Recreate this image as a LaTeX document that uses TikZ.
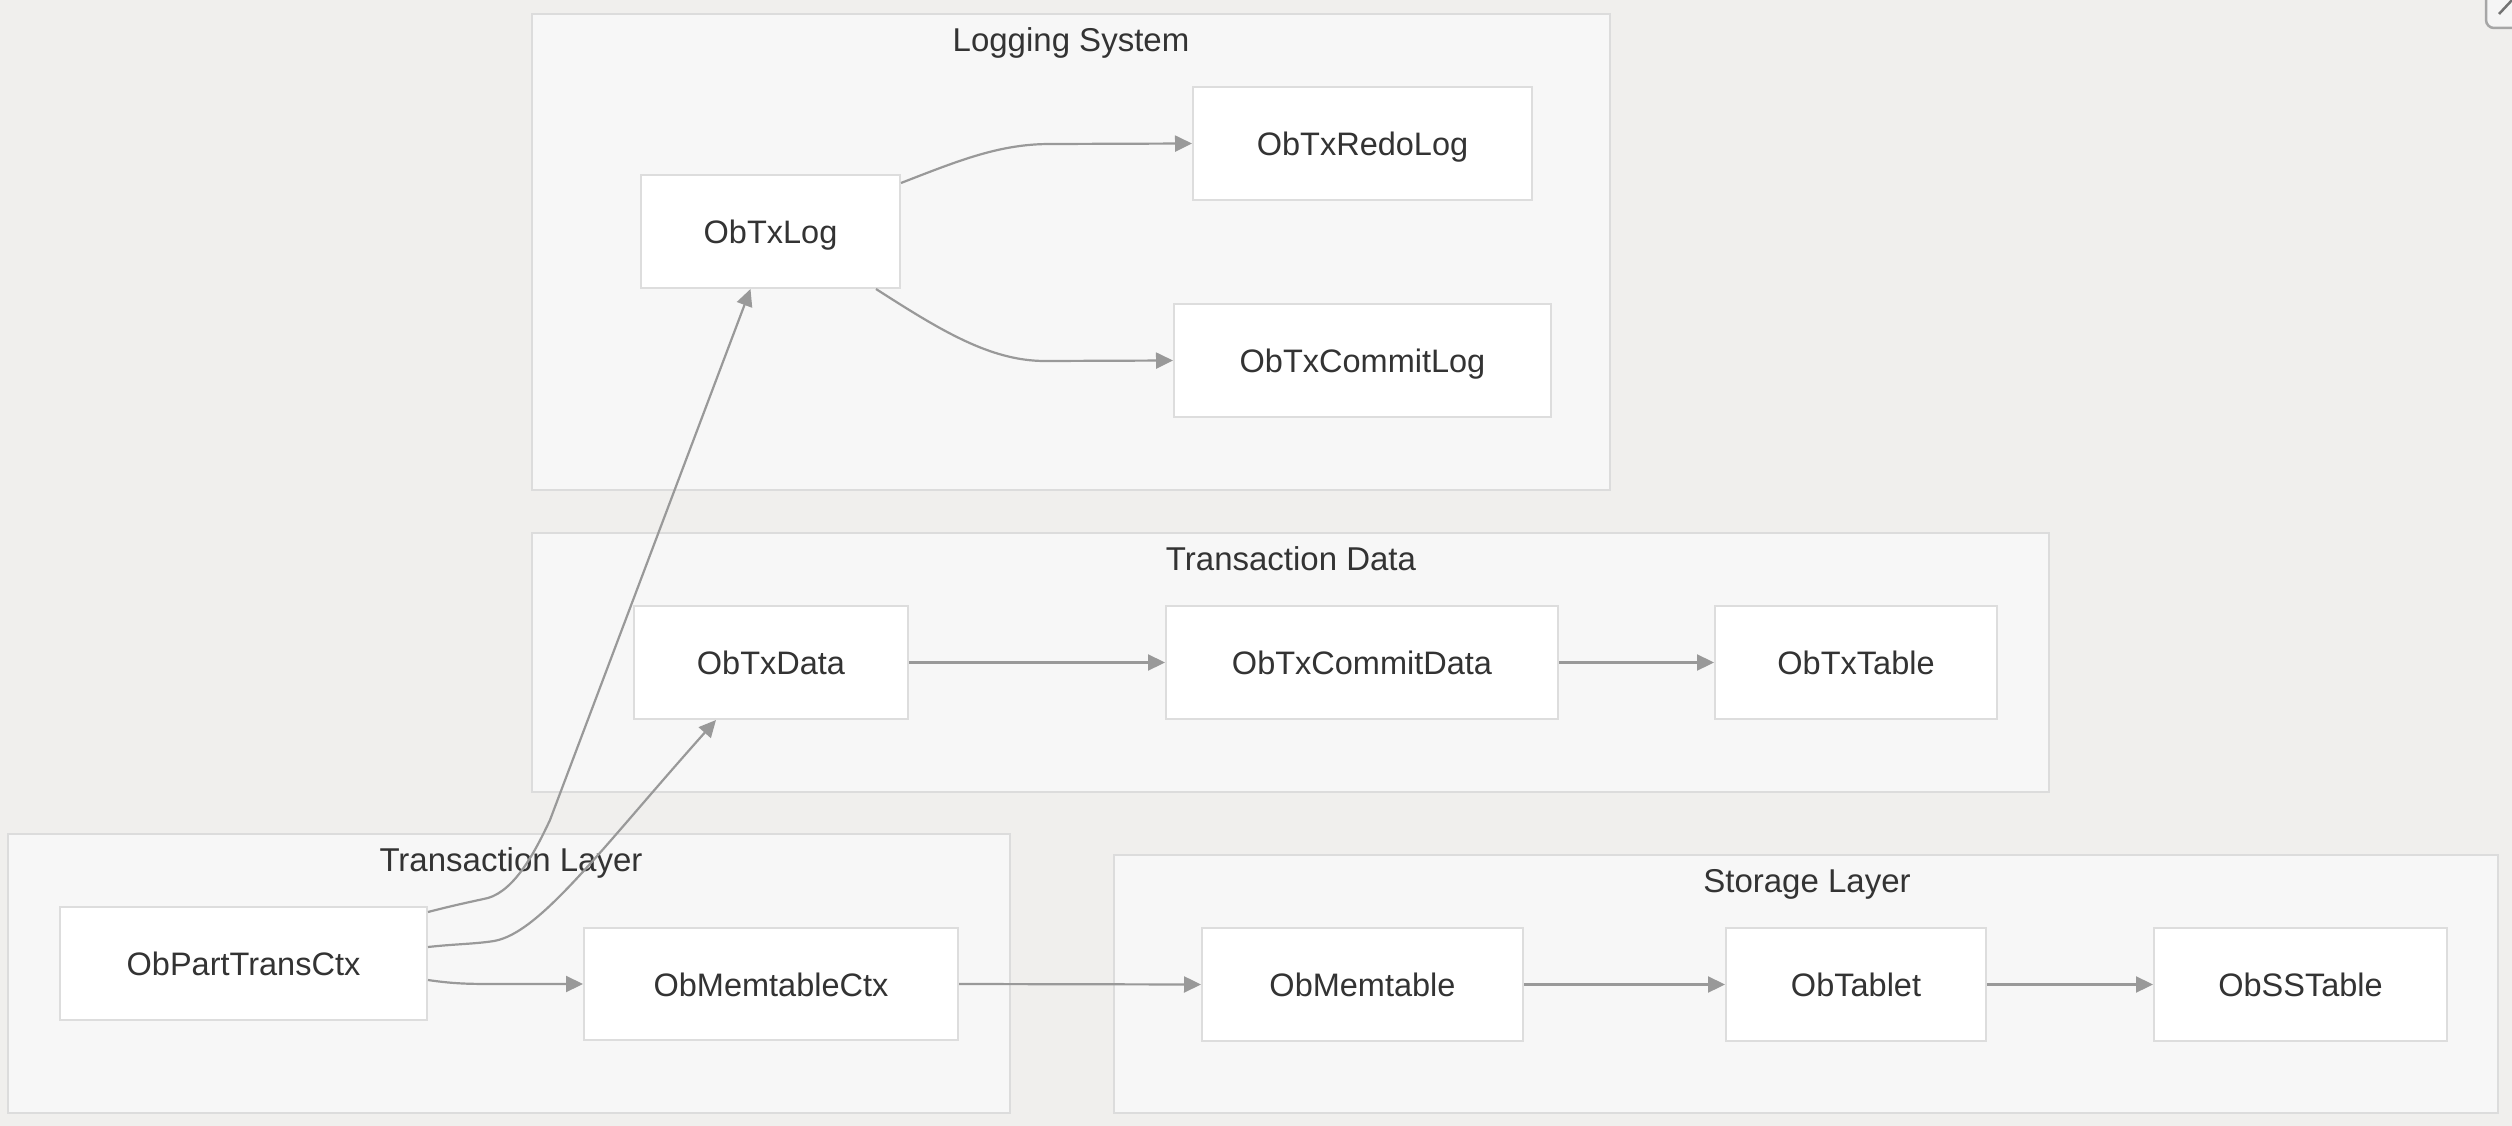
\documentclass[tikz,border=0pt]{standalone}
\usepackage{fontspec}
\setmainfont{Liberation Sans}
\usetikzlibrary{arrows.meta}
\definecolor{bgc}{HTML}{F0EFED}
\definecolor{clfill}{HTML}{F7F7F7}
\definecolor{clline}{HTML}{DCDCDC}
\definecolor{ndline}{HTML}{DDDDDD}
\definecolor{edgec}{HTML}{999999}
\definecolor{txtc}{HTML}{333333}
\tikzset{
  cluster/.style={fill=clfill, draw=clline, line width=2pt},
  cltitle/.style={anchor=base, text=txtc, font=\fontsize{33}{40}\selectfont, inner sep=0pt},
  box/.style={draw=ndline, fill=white, line width=2pt, text=txtc, font=\fontsize{32.5}{40}\selectfont,
    minimum height=113pt, inner sep=0pt, text height=30pt, text depth=6pt},
  edge/.style={draw=edgec, line width=2.2pt, -{Triangle[length=17pt,width=16pt]}},
}
\begin{document}
\begin{tikzpicture}[x=1pt,y=-1pt]
\useasboundingbox (0,0) rectangle (2512,1126);
\fill[bgc] (0,0) rectangle (2512,1126);
% corner icon
\begin{scope}
\clip (0,0) rectangle (2512,1126);
\draw[draw=black!35, fill=black!4, line width=2.5pt, rounded corners=8pt] (2486,-20) rectangle (2545,28);
\draw[draw=black!55, line width=2.5pt] (2499,14) -- (2513,-1);
\end{scope}
% clusters
\draw[cluster] (532,14) rectangle (1610,490);
\node[cltitle] (tlog) at (1071,52) {Logging System};
\draw[cluster] (532,533) rectangle (2049,792);
\node[cltitle] (tdata) at (1291,570) {Transaction Data};
\draw[cluster] (8,834) rectangle (1010,1113);
\node[cltitle] (tlayer) at (511,871) {Transaction Layer};
\draw[cluster] (1114,855) rectangle (2498,1113);
\node[cltitle] (tstore) at (1807,892) {Storage Layer};
% nodes
\node[box, minimum width=259pt] (txlog) at (770.5,231.5) {ObTxLog};
\node[box, minimum width=339pt] (redo) at (1362.5,143.5) {ObTxRedoLog};
\node[box, minimum width=377pt] (clog) at (1362.5,360.5) {ObTxCommitLog};
\node[box, minimum width=274pt] (txdata) at (771,662.5) {ObTxData};
\node[box, minimum width=392pt] (cdata) at (1362,662.5) {ObTxCommitData};
\node[box, minimum width=282pt] (txtable) at (1856,662.5) {ObTxTable};
\node[box, minimum width=367pt] (ptc) at (243.5,963.5) {ObPartTransCtx};
\node[box, minimum width=374pt, minimum height=112pt] (mctx) at (771,984) {ObMemtableCtx};
\node[box, minimum width=321pt] (mt) at (1362.5,984.5) {ObMemtable};
\node[box, minimum width=260pt] (tablet) at (1856,984.5) {ObTablet};
\node[box, minimum width=293pt] (sst) at (2300.5,984.5) {ObSSTable};
% edges
\draw[edge] ([yshift=51.5pt]ptc.east) .. controls (455,905) and (470,902) .. (488,898)
  .. controls (515,890) and (535,852) .. (550,820) -- ([xshift=-20pt]txlog.south);
\draw[edge] ([yshift=16.5pt]ptc.east) .. controls (455,944) and (475,944) .. (494,941)
  .. controls (540,933) and (600,850) .. ([xshift=-55pt]txdata.south);
\draw[edge] ([yshift=-16.5pt]ptc.east) .. controls (455,984) and (470,984) .. (500,984) -- (mctx.west);
\draw[edge] (mctx.east) -- (mt.west);
\draw[edge] (mt.east) -- (tablet.west);
\draw[edge] (tablet.east) -- (sst.west);
\draw[edge] (txdata.east) -- (cdata.west);
\draw[edge] (cdata.east) -- (txtable.west);
\draw[edge] ([yshift=48.5pt]txlog.east) .. controls (960,160) and (1000,144) .. (1050,144) -- (redo.west);
\draw[edge] ([xshift=105.5pt]txlog.south) .. controls (940,330) and (990,361) .. (1045,361) -- (clog.west);
\end{tikzpicture}
\end{document}
